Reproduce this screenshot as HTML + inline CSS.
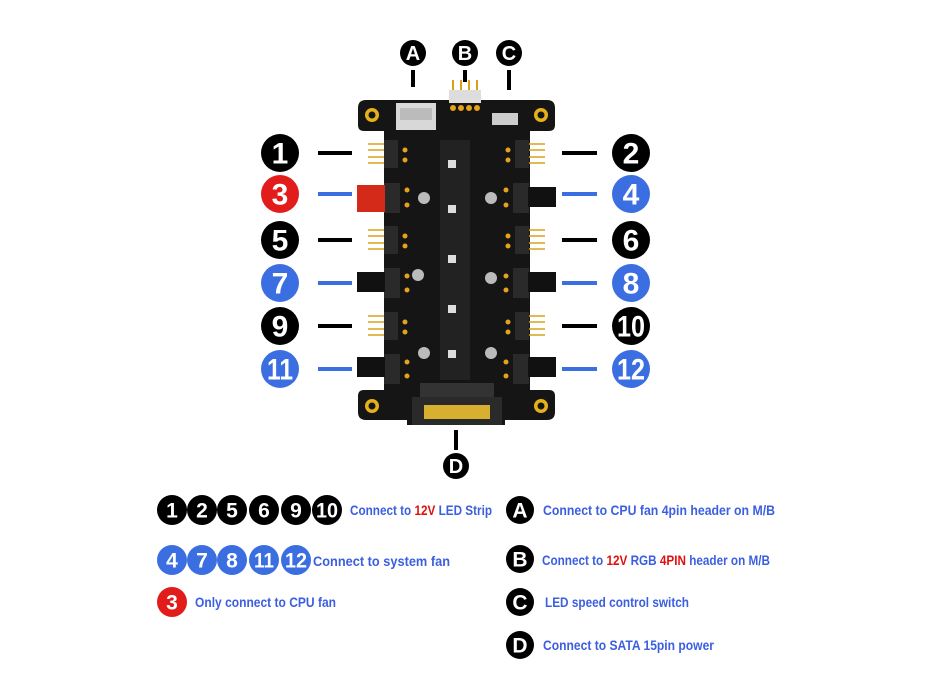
<!DOCTYPE html>
<html><head><meta charset="utf-8"><style>
html,body{margin:0;padding:0;background:#fff;}
svg{display:block}
text{font-family:"Liberation Sans Narrow","Liberation Sans",sans-serif;font-weight:bold;}
.n{fill:#fff;text-anchor:middle;dominant-baseline:central;}
.t{fill:#3b5fe0;font-size:14px;dominant-baseline:central;}
.r{fill:#e01010}
</style></head><body>
<svg width="933" height="700" viewBox="0 0 933 700" xmlns="http://www.w3.org/2000/svg">
<path d="M366 100 H547 Q555 100 555 108 V125 Q555 131 549 131 H530 V390 H549 Q555 390 555 396 V412 Q555 420 547 420 H505 V425 H407 V420 H366 Q358 420 358 412 V396 Q358 390 364 390 H384 V131 H364 Q358 131 358 125 V108 Q358 100 366 100 Z" fill="#151515"/>
<g fill="#e5b11a"><circle cx="372" cy="115" r="7"/><circle cx="541" cy="115" r="7"/><circle cx="372" cy="406" r="7"/><circle cx="541" cy="406" r="7"/></g>
<g fill="#151515"><circle cx="372" cy="115" r="3.5"/><circle cx="541" cy="115" r="3.5"/><circle cx="372" cy="406" r="3.5"/><circle cx="541" cy="406" r="3.5"/></g>
<rect x="396" y="103" width="40" height="27" fill="#d8d8d8"/><rect x="400" y="108" width="32" height="12" fill="#bbb"/>
<rect x="449" y="90" width="32" height="13" fill="#ddd"/>
<g stroke="#d9a21a" stroke-width="2"><line x1="453" y1="80" x2="453" y2="90"/><line x1="461" y1="80" x2="461" y2="90"/><line x1="469" y1="80" x2="469" y2="90"/><line x1="477" y1="80" x2="477" y2="90"/></g>
<g fill="#e5a21a"><circle cx="453" cy="108" r="3"/><circle cx="461" cy="108" r="3"/><circle cx="469" cy="108" r="3"/><circle cx="477" cy="108" r="3"/></g>
<rect x="492" y="113" width="26" height="12" fill="#ccc"/>
<rect x="420" y="383" width="74" height="14" fill="#333"/>
<rect x="412" y="397" width="90" height="28" fill="#2a2a2a"/>
<rect x="424" y="405" width="66" height="14" fill="#d8b030"/>
<g fill="#222"><rect x="440" y="140" width="30" height="240"/></g>
<g fill="#ddd"><rect x="448" y="160" width="8" height="8"/><rect x="448" y="205" width="8" height="8"/><rect x="448" y="255" width="8" height="8"/><rect x="448" y="305" width="8" height="8"/><rect x="448" y="350" width="8" height="8"/></g>
<g fill="#2a2a2a">
<rect x="384" y="140" width="14" height="28"/><rect x="515" y="140" width="14" height="28"/>
<rect x="384" y="183" width="16" height="30"/><rect x="513" y="183" width="16" height="30"/>
<rect x="384" y="226" width="14" height="28"/><rect x="515" y="226" width="14" height="28"/>
<rect x="384" y="268" width="16" height="30"/><rect x="513" y="268" width="16" height="30"/>
<rect x="384" y="312" width="14" height="28"/><rect x="515" y="312" width="14" height="28"/>
<rect x="384" y="354" width="16" height="30"/><rect x="513" y="354" width="16" height="30"/>
</g>
<rect x="357" y="185" width="28" height="27" fill="#d42a1a"/>
<g fill="#111"><rect x="357" y="272" width="28" height="20"/><rect x="528" y="187" width="28" height="20"/><rect x="528" y="272" width="28" height="20"/><rect x="357" y="357" width="28" height="20"/><rect x="528" y="357" width="28" height="20"/></g>
<g stroke="#d9a21a" stroke-width="1.5">
<line x1="368" y1="144" x2="384" y2="144"/><line x1="368" y1="150" x2="384" y2="150"/><line x1="368" y1="157" x2="384" y2="157"/><line x1="368" y1="163" x2="384" y2="163"/>
<line x1="529" y1="144" x2="545" y2="144"/><line x1="529" y1="150" x2="545" y2="150"/><line x1="529" y1="157" x2="545" y2="157"/><line x1="529" y1="163" x2="545" y2="163"/>
<line x1="368" y1="230" x2="384" y2="230"/><line x1="368" y1="236" x2="384" y2="236"/><line x1="368" y1="243" x2="384" y2="243"/><line x1="368" y1="249" x2="384" y2="249"/>
<line x1="529" y1="230" x2="545" y2="230"/><line x1="529" y1="236" x2="545" y2="236"/><line x1="529" y1="243" x2="545" y2="243"/><line x1="529" y1="249" x2="545" y2="249"/>
<line x1="368" y1="316" x2="384" y2="316"/><line x1="368" y1="322" x2="384" y2="322"/><line x1="368" y1="329" x2="384" y2="329"/><line x1="368" y1="335" x2="384" y2="335"/>
<line x1="529" y1="316" x2="545" y2="316"/><line x1="529" y1="322" x2="545" y2="322"/><line x1="529" y1="329" x2="545" y2="329"/><line x1="529" y1="335" x2="545" y2="335"/>
</g>
<g fill="#e5a21a">
<circle cx="405" cy="150" r="2.5"/><circle cx="405" cy="160" r="2.5"/><circle cx="508" cy="150" r="2.5"/><circle cx="508" cy="160" r="2.5"/>
<circle cx="407" cy="190" r="2.5"/><circle cx="407" cy="205" r="2.5"/><circle cx="506" cy="190" r="2.5"/><circle cx="506" cy="205" r="2.5"/>
<circle cx="405" cy="236" r="2.5"/><circle cx="405" cy="246" r="2.5"/><circle cx="508" cy="236" r="2.5"/><circle cx="508" cy="246" r="2.5"/>
<circle cx="407" cy="276" r="2.5"/><circle cx="407" cy="290" r="2.5"/><circle cx="506" cy="276" r="2.5"/><circle cx="506" cy="290" r="2.5"/>
<circle cx="405" cy="322" r="2.5"/><circle cx="405" cy="332" r="2.5"/><circle cx="508" cy="322" r="2.5"/><circle cx="508" cy="332" r="2.5"/>
<circle cx="407" cy="362" r="2.5"/><circle cx="407" cy="376" r="2.5"/><circle cx="506" cy="362" r="2.5"/><circle cx="506" cy="376" r="2.5"/>
</g>
<g fill="#bbb"><circle cx="424" cy="198" r="6"/><circle cx="491" cy="198" r="6"/><circle cx="418" cy="275" r="6"/><circle cx="491" cy="278" r="6"/><circle cx="424" cy="353" r="6"/><circle cx="491" cy="353" r="6"/></g>
<g stroke-width="4">
<line x1="318" y1="153" x2="352" y2="153" stroke="#000"/><line x1="562" y1="153" x2="597" y2="153" stroke="#000"/>
<line x1="318" y1="194" x2="352" y2="194" stroke="#3b6ee0"/><line x1="562" y1="194" x2="597" y2="194" stroke="#3b6ee0"/>
<line x1="318" y1="240" x2="352" y2="240" stroke="#000"/><line x1="562" y1="240" x2="597" y2="240" stroke="#000"/>
<line x1="318" y1="283" x2="352" y2="283" stroke="#3b6ee0"/><line x1="562" y1="283" x2="597" y2="283" stroke="#3b6ee0"/>
<line x1="318" y1="326" x2="352" y2="326" stroke="#000"/><line x1="562" y1="326" x2="597" y2="326" stroke="#000"/>
<line x1="318" y1="369" x2="352" y2="369" stroke="#3b6ee0"/><line x1="562" y1="369" x2="597" y2="369" stroke="#3b6ee0"/>
<line x1="413" y1="70" x2="413" y2="87" stroke="#000"/><line x1="465" y1="70" x2="465" y2="82" stroke="#000"/><line x1="509" y1="70" x2="509" y2="90" stroke="#000"/>
<line x1="456" y1="430" x2="456" y2="450" stroke="#000"/>
</g>
<g font-size="30">
<circle cx="280" cy="153" r="19" fill="#000"/><text class="n" x="280" y="154">1</text>
<circle cx="631" cy="153" r="19" fill="#000"/><text class="n" x="631" y="154">2</text>
<circle cx="280" cy="194" r="19" fill="#e21b1b"/><text class="n" x="280" y="195">3</text>
<circle cx="631" cy="194" r="19" fill="#3b6ee0"/><text class="n" x="631" y="195">4</text>
<circle cx="280" cy="240" r="19" fill="#000"/><text class="n" x="280" y="241">5</text>
<circle cx="631" cy="240" r="19" fill="#000"/><text class="n" x="631" y="241">6</text>
<circle cx="280" cy="283" r="19" fill="#3b6ee0"/><text class="n" x="280" y="284">7</text>
<circle cx="631" cy="283" r="19" fill="#3b6ee0"/><text class="n" x="631" y="284">8</text>
<circle cx="280" cy="326" r="19" fill="#000"/><text class="n" x="280" y="327">9</text>
<circle cx="631" cy="326" r="19" fill="#000"/><text class="n" x="631" y="327" textLength="28" lengthAdjust="spacingAndGlyphs">10</text>
<circle cx="280" cy="369" r="19" fill="#3b6ee0"/><text class="n" x="280" y="370" textLength="26" lengthAdjust="spacingAndGlyphs">11</text>
<circle cx="631" cy="369" r="19" fill="#3b6ee0"/><text class="n" x="631" y="370" textLength="28" lengthAdjust="spacingAndGlyphs">12</text>
</g>
<g font-size="20">
<circle cx="413" cy="53" r="13" fill="#000"/><text class="n" x="413" y="54">A</text>
<circle cx="465" cy="53" r="13" fill="#000"/><text class="n" x="465" y="54">B</text>
<circle cx="509" cy="53" r="13" fill="#000"/><text class="n" x="509" y="54">C</text>
<circle cx="456" cy="466" r="13" fill="#000"/><text class="n" x="456" y="467">D</text>
</g>
<g font-size="21">
<circle cx="172" cy="510" r="15" fill="#000"/><text class="n" x="172" y="511">1</text>
<circle cx="202" cy="510" r="15" fill="#000"/><text class="n" x="202" y="511">2</text>
<circle cx="232" cy="510" r="15" fill="#000"/><text class="n" x="232" y="511">5</text>
<circle cx="264" cy="510" r="15" fill="#000"/><text class="n" x="264" y="511">6</text>
<circle cx="296" cy="510" r="15" fill="#000"/><text class="n" x="296" y="511">9</text>
<circle cx="327" cy="510" r="15" fill="#000"/><text class="n" x="327" y="511" textLength="22" lengthAdjust="spacingAndGlyphs">10</text>
<circle cx="172" cy="560" r="15" fill="#3b6ee0"/><text class="n" x="172" y="561">4</text>
<circle cx="202" cy="560" r="15" fill="#3b6ee0"/><text class="n" x="202" y="561">7</text>
<circle cx="232" cy="560" r="15" fill="#3b6ee0"/><text class="n" x="232" y="561">8</text>
<circle cx="264" cy="560" r="15" fill="#3b6ee0"/><text class="n" x="264" y="561" textLength="20" lengthAdjust="spacingAndGlyphs">11</text>
<circle cx="296" cy="560" r="15" fill="#3b6ee0"/><text class="n" x="296" y="561" textLength="22" lengthAdjust="spacingAndGlyphs">12</text>
<circle cx="172" cy="602" r="15" fill="#e21b1b"/><text class="n" x="172" y="603">3</text>
<circle cx="520" cy="510" r="14" fill="#000"/><text class="n" x="520" y="511">A</text>
<circle cx="520" cy="559" r="14" fill="#000"/><text class="n" x="520" y="560">B</text>
<circle cx="520" cy="602" r="14" fill="#000"/><text class="n" x="520" y="603">C</text>
<circle cx="520" cy="645" r="14" fill="#000"/><text class="n" x="520" y="646">D</text>
</g>
<text class="t" x="350" y="510" textLength="142" lengthAdjust="spacingAndGlyphs">Connect  to <tspan class="r">12V</tspan> LED Strip</text>
<text class="t" x="313" y="561" textLength="137" lengthAdjust="spacingAndGlyphs">Connect  to system fan</text>
<text class="t" x="195" y="602" textLength="141" lengthAdjust="spacingAndGlyphs">Only connect to CPU fan</text>
<text class="t" x="543" y="510" textLength="232" lengthAdjust="spacingAndGlyphs">Connect  to CPU  fan 4pin header on M/B</text>
<text class="t" x="542" y="560" textLength="228" lengthAdjust="spacingAndGlyphs">Connect to <tspan class="r">12V</tspan> RGB <tspan class="r">4PIN</tspan> header on M/B</text>
<text class="t" x="545" y="602" textLength="144" lengthAdjust="spacingAndGlyphs">LED speed control switch</text>
<text class="t" x="543" y="645" textLength="171" lengthAdjust="spacingAndGlyphs">Connect  to SATA 15pin power</text>
</svg>
</body></html>
